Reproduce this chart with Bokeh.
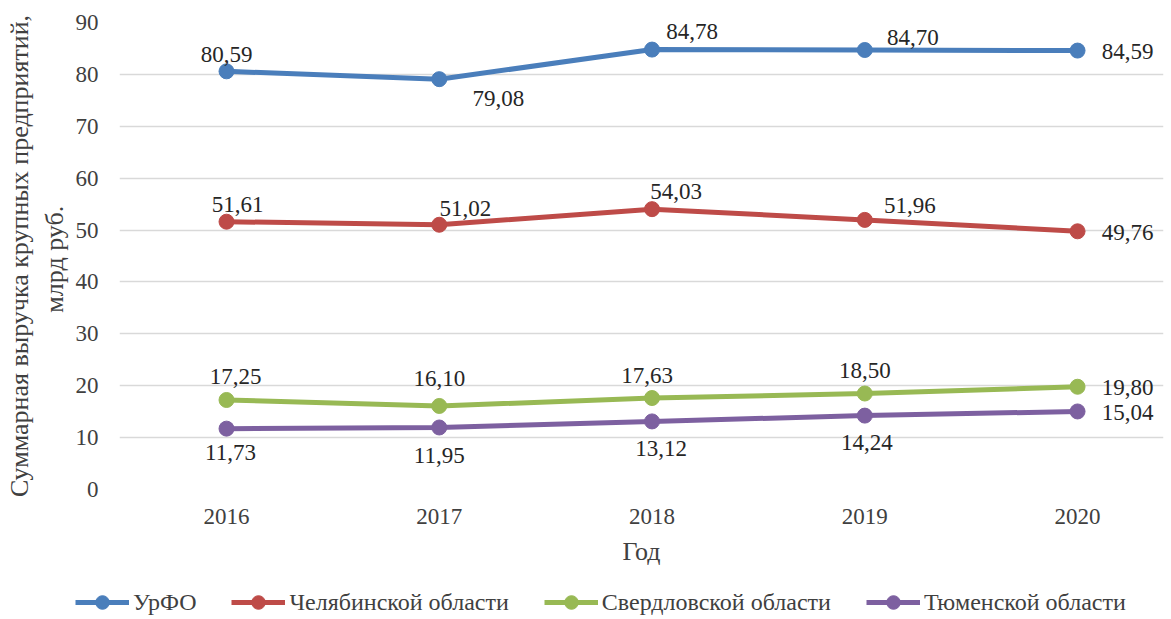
from bokeh.plotting import figure
from bokeh.layouts import column
from bokeh.models import Range1d, FixedTicker, Legend, LegendItem, ColumnDataSource
from bokeh.core.properties import value
from bokeh.embed import file_html
from bokeh.resources import INLINE

# ---- data ----
years = [2016, 2017, 2018, 2019, 2020]
series_names = ["УрФО", "Челябинской области", "Свердловской области", "Тюменской области"]
urfo = [80.59, 79.08, 84.78, 84.70, 84.59]
chel = [51.61, 51.02, 54.03, 51.96, 49.76]
sverd = [17.25, 16.10, 17.63, 18.50, 19.80]
tyum = [11.73, 11.95, 13.12, 14.24, 15.04]
y_ticks = [0, 10, 20, 30, 40, 50, 60, 70, 80, 90]
x_title = "Год"
y_title = "Суммарная выручка крупных предприятий,\nмлрд  руб."

# ---- style ----
colors = ["#4A7EBB", "#BE4B48", "#98B954", "#7D60A0"]
label_dx = [[0, 59, 40, 48, 50], [11, 26, 24, 45, 50], [9, 0, -5, 0, 50], [4, 0, 9, 2, 50]]
label_dy = [[-17, 19, -18, -13, 1], [-17, -16, -18, -14, 1], [-23, -27, -23, -23, 1], [24, 28, 27, 27, 1]]
FONT = "Liberation Serif"

p = figure(width=1171, height=578, output_backend="svg", toolbar_location=None,
           x_range=Range1d(2015.497, 2020.404), y_range=Range1d(0, 90),
           min_border_left=119, min_border_right=8, min_border_top=22, min_border_bottom=89)
p.outline_line_color = None
p.xgrid.grid_line_color = None
p.ygrid.grid_line_color = "#D9D9D9"
p.ygrid.grid_line_width = 1.5
p.ygrid.ticker = FixedTicker(ticks=y_ticks)

p.yaxis.ticker = FixedTicker(ticks=y_ticks)
p.xaxis.ticker = FixedTicker(ticks=years)
for ax in (p.xaxis, p.yaxis):
    ax.axis_line_color = None
    ax.major_tick_line_color = None
    ax.minor_tick_line_color = None
    ax.major_tick_out = 0
    ax.major_tick_in = 0
    ax.major_label_text_font = FONT
    ax.major_label_text_font_size = "23px"
    ax.major_label_text_color = "#404040"
    ax.axis_label_text_font = FONT
    ax.axis_label_text_font_size = "26px"
    ax.axis_label_text_font_style = "normal"
    ax.axis_label_text_color = "#404040"
p.yaxis.major_label_standoff = 21
p.yaxis.axis_label = y_title
p.yaxis.axis_label_standoff = 4
p.xaxis.major_label_standoff = 19
p.xaxis.axis_label = x_title
p.xaxis.axis_label_standoff = 10

for i, vals in enumerate([urfo, chel, sverd, tyum]):
    src = ColumnDataSource(dict(
        x=years, y=vals,
        txt=[f"{v:.2f}".replace(".", ",") for v in vals],
        dx=label_dx[i], dy=label_dy[i],
    ))
    p.line("x", "y", source=src, line_color=colors[i], line_width=5)
    p.scatter("x", "y", source=src, size=15, fill_color=colors[i], line_color=colors[i])
    p.text("x", "y", text="txt", source=src, x_offset="dx", y_offset="dy",
           text_align="center", text_baseline="alphabetic",
           text_font=value(FONT), text_font_size="23px", text_color="#262626")

# ---- legend strip below the chart ----
pl = figure(width=1171, height=41, output_backend="svg", toolbar_location=None,
            x_range=Range1d(0, 1), y_range=Range1d(0, 1),
            x_axis_location=None, y_axis_location=None, min_border=0,
            min_border_left=0, min_border_right=0, min_border_top=0, min_border_bottom=0)
pl.outline_line_color = None
pl.grid.visible = False
legend_x = 75
if "frame_align" in pl.properties():
    pl.frame_align = False
else:
    legend_x = 75 - 119
items = []
for i, name in enumerate(series_names):
    # legend-only renderers, kept outside the strip's visible range
    ln = pl.line(x=[-5, -4], y=[-5, -4], line_color=colors[i], line_width=5)
    sc = pl.scatter(x=[-5], y=[-5], size=15, fill_color=colors[i], line_color=colors[i])
    items.append(LegendItem(label=name, renderers=[ln, sc]))
legend = Legend(items=items, orientation="horizontal", location=(legend_x, 0),
                glyph_width=54, glyph_height=34, label_standoff=4, spacing=35,
                padding=0, margin=0, border_line_color=None, background_fill_alpha=0,
                label_text_font=FONT, label_text_font_size="24px", label_text_color="#404040")
pl.add_layout(legend, "center")

layout = column(p, pl, spacing=0)
open("out.html", "w").write(file_html(layout, INLINE))
